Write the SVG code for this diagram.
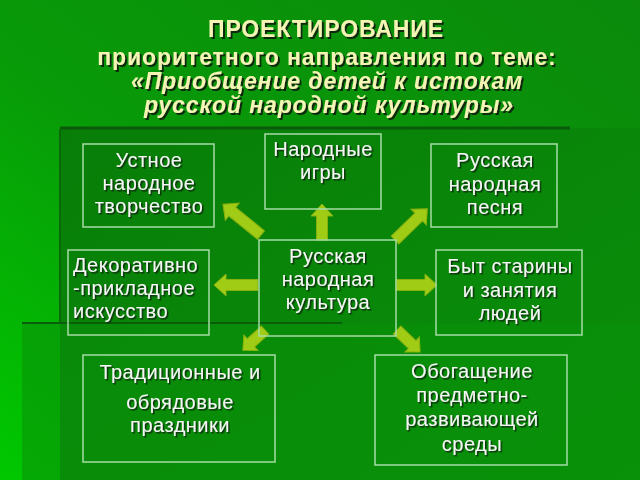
<svg xmlns="http://www.w3.org/2000/svg" width="640" height="480" viewBox="0 0 640 480">
<defs>
<linearGradient id="bg" x1="1" y1="0" x2="0" y2="1">
<stop offset="0" stop-color="#0b8a0b"/>
<stop offset="0.55" stop-color="#089a08"/>
<stop offset="1" stop-color="#00c800"/>
</linearGradient>
<linearGradient id="panel" x1="0" y1="0" x2="1" y2="1">
<stop offset="0" stop-color="#087e08"/>
<stop offset="1" stop-color="#0a900a"/>
</linearGradient>
<filter id="sh" x="-10%" y="-20%" width="130%" height="150%">
<feDropShadow dx="1.5" dy="1.5" stdDeviation="0.4" flood-color="#0a1a0a" flood-opacity="0.85"/>
</filter>
<filter id="tsh" x="-10%" y="-20%" width="130%" height="150%">
<feDropShadow dx="2" dy="2" stdDeviation="0.5" flood-color="#0a1a0a" flood-opacity="0.9"/>
</filter>
<style>
.box{fill:none;stroke:#a6dca6;stroke-width:1.5}
.t{font-family:"Liberation Sans",Arial,sans-serif;font-size:20px;letter-spacing:0.5px;fill:#f6f6f6;text-anchor:middle;filter:url(#sh)}
.l{text-anchor:start}
.title{font-family:"Liberation Sans",Arial,sans-serif;font-weight:bold;font-size:23px;letter-spacing:0.9px;fill:#f4f4b4;text-anchor:middle;filter:url(#tsh)}
.it{font-style:italic}
.arr{fill:#a0cc16;stroke:#86b00e;stroke-width:1}
</style>
</defs>
<rect width="640" height="480" fill="url(#bg)"/>
<rect x="60" y="128" width="580" height="352" fill="url(#panel)"/>
<rect x="22" y="324" width="618" height="156" fill="#0a920a" opacity="0.55"/>
<line x1="60" y1="128" x2="570" y2="128" stroke="#0a5a0a" stroke-width="3"/>
<line x1="60" y1="129" x2="60" y2="324" stroke="#0a6a0a" stroke-width="2"/>
<line x1="22" y1="323" x2="342" y2="323" stroke="#0a5e0a" stroke-width="2"/>

<g id="title">
<text class="title" x="326" y="37">ПРОЕКТИРОВАНИЕ</text>
<text class="title" x="327" y="65">приоритетного направления по теме:</text>
<text class="title it" x="327" y="89">«Приобщение детей к истокам</text>
<text class="title it" x="329" y="113">русской народной культуры»</text>
</g>

<g id="connectors">
<polygon class="arr" points="316.5,240 316.5,216 311,216 322,204 333,216 327.5,216 327.5,240"/>
<polygon class="arr" points="258,279.5 226,279.5 226,274 214,285 226,296 226,290.5 258,290.5"/>
<polygon class="arr" points="396,279.5 425,279.5 425,274 437,285 425,296 425,290.5 396,290.5"/>
<polygon class="arr" transform="translate(261,235) rotate(-141)" points="0,-5.5 37,-5.5 37,-11 49,0 37,11 37,5.5 0,5.5"/>
<polygon class="arr" transform="translate(395,240) rotate(-44.1)" points="0,-5.5 33,-5.5 33,-11 45,0 33,11 33,5.5 0,5.5"/>
<polygon class="arr" transform="translate(265,330) rotate(137.7)" points="0,-5.5 19,-5.5 19,-10.5 30,0 19,10.5 19,5.5 0,5.5"/>
<polygon class="arr" transform="translate(397,330) rotate(43.7)" points="0,-5.5 21,-5.5 21,-10.5 32,0 21,10.5 21,5.5 0,5.5"/>
</g>

<g id="n-igry">
<rect class="box" x="265" y="134" width="116" height="75"/>
<text class="t" x="323" y="156">Народные</text>
<text class="t" x="323" y="179">игры</text>
</g>
<g id="n-ustnoe">
<rect class="box" x="83" y="144" width="131" height="83"/>
<text class="t" x="149" y="167">Устное</text>
<text class="t" x="149" y="190">народное</text>
<text class="t" x="149" y="213">творчество</text>
</g>
<g id="n-dekor">
<rect class="box" x="68" y="250" width="141" height="85"/>
<text class="t l" x="73" y="272">Декоративно</text>
<text class="t l" x="73" y="295">-прикладное</text>
<text class="t l" x="73" y="318">искусство</text>
</g>
<g id="n-center">
<rect class="box" x="259" y="240" width="137" height="96"/>
<text class="t" x="328" y="263">Русская</text>
<text class="t" x="328" y="286">народная</text>
<text class="t" x="328" y="309">культура</text>
</g>
<g id="n-pesnya">
<rect class="box" x="431" y="144" width="126" height="83"/>
<text class="t" x="495" y="167">Русская</text>
<text class="t" x="495" y="191">народная</text>
<text class="t" x="495" y="214">песня</text>
</g>
<g id="n-byt">
<rect class="box" x="436" y="250" width="146" height="85"/>
<text class="t" x="510" y="273">Быт старины</text>
<text class="t" x="510" y="297">и занятия</text>
<text class="t" x="510" y="320">людей</text>
</g>
<g id="n-prazdniki">
<rect class="box" x="83" y="355" width="192" height="107"/>
<text class="t" x="180" y="379">Традиционные и</text>
<text class="t" x="180" y="409">обрядовые</text>
<text class="t" x="180" y="432">праздники</text>
</g>
<g id="n-sreda">
<rect class="box" x="375" y="355" width="192" height="110"/>
<text class="t" x="472" y="378">Обогащение</text>
<text class="t" x="472" y="402">предметно-</text>
<text class="t" x="472" y="426">развивающей</text>
<text class="t" x="472" y="451">среды</text>
</g>
</svg>
